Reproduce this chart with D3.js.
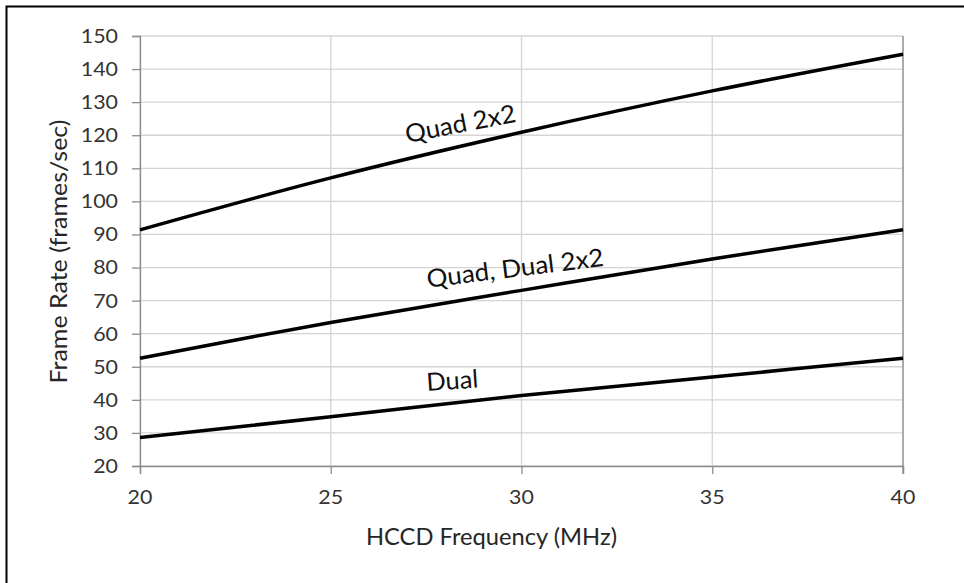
<!DOCTYPE html>
<html><head><meta charset="utf-8">
<script src="https://cdn.jsdelivr.net/npm/d3@7"></script>
<style>
html,body{margin:0;padding:0;background:#fff;}
svg{display:block;font-family:Lato,"Open Sans",sans-serif;}
</style></head>
<body>
<svg id="c" width="964" height="583"></svg>
<script>
const freq = [20, 25, 30, 35, 40];
const quad2x2 = [91.4, 107.1, 120.9, 133.4, 144.5];
const quadDual2x2 = [52.6, 63.4, 73.1, 82.6, 91.4];
const dual = [28.6, 34.9, 41.3, 46.9, 52.6];
const xTicks = [20, 25, 30, 35, 40];
const yTicks = [20, 30, 40, 50, 60, 70, 80, 90, 100, 110, 120, 130, 140, 150];
const seriesNames = ["Quad 2x2", "Quad, Dual 2x2", "Dual"];
const seriesValues = [quad2x2, quadDual2x2, dual];
const xTitle = "HCCD Frequency (MHz)";
const yTitle = "Frame Rate (frames/sec)";

const svg = d3.select("#c");
const L = 140, R = 903, T = 36, B = 466;
const x = d3.scaleLinear().domain([20, 40]).range([L, R]);
const y = d3.scaleLinear().domain([20, 150]).range([B, T]);
const FONT = "Lato, 'Open Sans', sans-serif";

// outer border (top & left visible)
svg.append("rect").attr("x", 6.5).attr("y", 6.5).attr("width", 980).attr("height", 600)
  .attr("fill", "none").attr("stroke", "#000").attr("stroke-width", 2);

// gridlines
const g = svg.append("g");
g.selectAll(".hg").data(yTicks).join("line")
  .attr("x1", L).attr("x2", R).attr("y1", d => y(d)).attr("y2", d => y(d))
  .attr("stroke", "#d4d4d4").attr("stroke-width", 1.3);
g.selectAll(".vg").data(xTicks).join("line")
  .attr("y1", T).attr("y2", B).attr("x1", d => x(d)).attr("x2", d => x(d))
  .attr("stroke", "#d4d4d4").attr("stroke-width", 1.3);

// axes (lines and tick marks)
const yAxis = svg.append("g").attr("transform", `translate(${L},0)`)
  .call(d3.axisLeft(y).tickValues(yTicks).tickSize(8).tickFormat(""));
const xAxis = svg.append("g").attr("transform", `translate(0,${B})`)
  .call(d3.axisBottom(x).tickValues(xTicks).tickSize(8).tickFormat(""));
[yAxis, xAxis].forEach(a => {
  a.select(".domain").attr("stroke", "#8c8c8c").attr("stroke-width", 1.3);
  a.selectAll(".tick line").attr("stroke", "#8c8c8c").attr("stroke-width", 1.3);
  a.selectAll(".tick text").remove();
});
svg.append("line").attr("x1", R).attr("x2", R).attr("y1", T).attr("y2", B + 8)
  .attr("stroke", "#8c8c8c").attr("stroke-width", 1.3);

// tick labels, stretched to the reference's glyph widths
function fitText(sel, perChar) {
  sel.each(function(d) {
    const w = this.getComputedTextLength();
    const target = String(d).length * perChar;
    const base = d3.select(this).attr("data-t");
    d3.select(this).attr("transform", base + ` scale(${target / w},1)`);
  });
}
const yl = svg.selectAll(".yl").data(yTicks).join("text")
  .attr("data-t", d => `translate(118,${y(d) + 6.9})`)
  .attr("text-anchor", "end").attr("fill", "#333").style("font-family", FONT)
  .style("font-size", "19.2px").text(d => d);
const xl = svg.selectAll(".xl").data(xTicks).join("text")
  .attr("data-t", d => `translate(${x(d)},504)`)
  .attr("text-anchor", "middle").attr("fill", "#333").style("font-family", FONT)
  .style("font-size", "19.2px").text(d => d);
fitText(yl, 12.4);
fitText(xl, 12.4);

// lines
const line = d3.line().x((d, i) => x(freq[i])).y(d => y(d)).curve(d3.curveCatmullRom.alpha(0.5));
svg.selectAll(".s").data(seriesValues).join("path")
  .attr("d", d => line(d)).attr("fill", "none").attr("stroke", "#000").attr("stroke-width", 3.5);

// series labels
const labelPos = [
  {fx: 28.44, v: 120.9, rot: -11, len: 112},
  {fx: 29.86, v: 77.2, rot: -7, len: 178},
  {fx: 28.2, v: 43.2, rot: -4, len: 52}
];
seriesNames.forEach((n, i) => {
  const p = labelPos[i];
  svg.append("text").attr("transform", `translate(${x(p.fx)},${y(p.v)}) rotate(${p.rot})`)
    .attr("text-anchor", "middle").attr("fill", "#111").style("font-family", FONT)
    .style("font-size", "25px")
    .attr("textLength", p.len).attr("lengthAdjust", "spacingAndGlyphs").text(n);
});

// titles
svg.append("text").attr("x", 491.5).attr("y", 545).attr("text-anchor", "middle")
  .attr("fill", "#262626").style("font-family", FONT).style("font-size", "23px")
  .attr("textLength", 251).attr("lengthAdjust", "spacingAndGlyphs").text(xTitle);
svg.append("text").attr("transform", "translate(67,251.5) rotate(-90)").attr("text-anchor", "middle")
  .attr("fill", "#262626").style("font-family", FONT).style("font-size", "23px")
  .attr("textLength", 264).attr("lengthAdjust", "spacingAndGlyphs").text(yTitle);
</script>
</body></html>
